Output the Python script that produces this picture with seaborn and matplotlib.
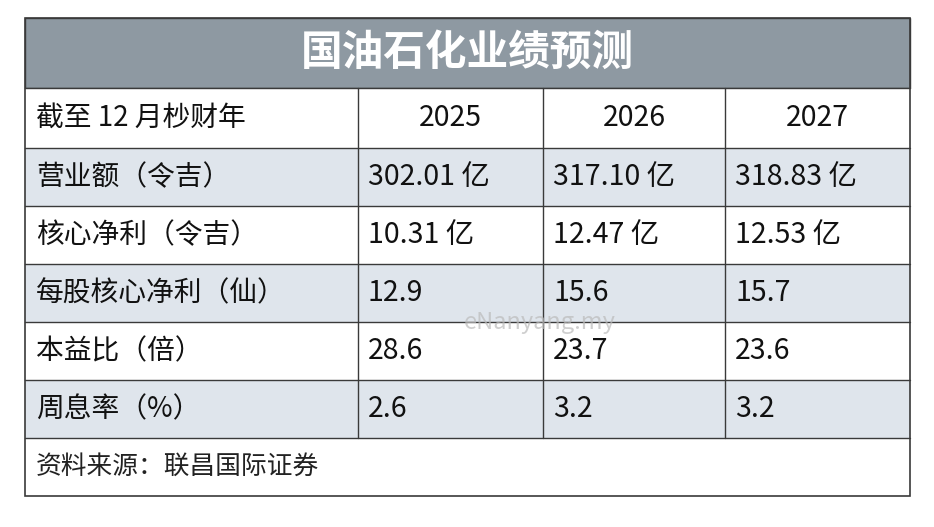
import matplotlib
matplotlib.use("Agg")
import matplotlib.pyplot as plt
from matplotlib.patches import Rectangle
import seaborn as sns

title = "国油石化业绩预测"
header = ["截至 12 月杪财年", "2025", "2026", "2027"]
row_labels = ["营业额（令吉）", "核心净利（令吉）", "每股核心净利（仙）", "本益比（倍）", "周息率（%）"]
val_2025 = ["302.01 亿", "10.31 亿", "12.9", "28.6", "2.6"]
val_2026 = ["317.10 亿", "12.47 亿", "15.6", "23.7", "3.2"]
val_2027 = ["318.83 亿", "12.53 亿", "15.7", "23.6", "3.2"]
source = "资料来源：联昌国际证券"

sns.set_theme(style="white")
plt.rcParams['font.family'] = ['Noto Sans CJK SC', 'DejaVu Sans']

fig = plt.figure(figsize=(9.34, 5.27), dpi=100)
ax = fig.add_axes([0, 0, 1, 1])
ax.set_xlim(0, 934)
ax.set_ylim(527, 0)
ax.axis("off")

x_edges = [25, 358, 543, 725, 910]
y_edges = [18, 88, 148, 206, 264, 322, 380, 438, 496]
line_c = "#3a3a3a"
stripe = "#dfe5ec"

# title bar
ax.add_patch(Rectangle((25, 18), 885, 70, facecolor="#8e99a2", edgecolor=line_c, lw=1))
ax.text(467, 53, title, color="white", fontsize=30, fontweight="bold", ha="center", va="center")

# body rows
rows = [header] + [[row_labels[i], val_2025[i], val_2026[i], val_2027[i]] for i in range(len(row_labels))]
for r, row in enumerate(rows):
    y0, y1 = y_edges[r + 1], y_edges[r + 2]
    fc = stripe if r % 2 == 1 else "white"
    ax.add_patch(Rectangle((25, y0), 885, y1 - y0, facecolor=fc, edgecolor="none"))
    ym = (y0 + y1) / 2
    for c, txt in enumerate(row):
        if c == 0:
            ax.text(36, ym, txt, fontsize=20, ha="left", va="center", color="#111111")
        elif r == 0:
            ax.text((x_edges[c] + x_edges[c + 1]) / 2, ym, txt, fontsize=20.5, ha="center", va="center", color="#111111")
        else:
            ax.text(x_edges[c] + 10, ym, txt, fontsize=20.5, ha="left", va="center", color="#111111")

# grid lines
for y in y_edges[1:-1]:
    ax.plot([25, 910], [y, y], color=line_c, lw=1)
for x in x_edges[1:-1]:
    ax.plot([x, x], [88, 438], color=line_c, lw=1)
ax.add_patch(Rectangle((25, 18), 885, 478, facecolor="none", edgecolor=line_c, lw=1.2))

# footer
ax.text(36, 467, source, fontsize=18.5, ha="left", va="center", color="#222222")

# watermark
ax.text(540, 322, "eNanyang.my", fontsize=17, color="#bbbbbb", alpha=0.7, ha="center", va="center")

fig.savefig("out.png", dpi=100)
